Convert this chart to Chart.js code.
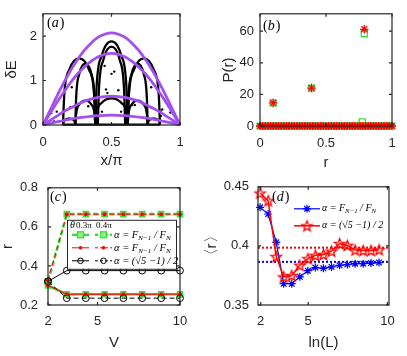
<!DOCTYPE html>
<html>
<head>
<meta charset="utf-8">
<script src="https://cdn.jsdelivr.net/npm/chart.js@4.4.1/dist/chart.umd.min.js"></script>
<style>
html, body { margin: 0; padding: 0; background: #fff; }
#wrap { position: relative; width: 407px; height: 356px; overflow: hidden; }
canvas { position: absolute; }
</style>
</head>
<body>
<div id="wrap">
  <canvas id="pa" width="204" height="170" style="left:0;top:0;width:204px;height:170px"></canvas>
  <canvas id="pb" width="203" height="170" style="left:204px;top:0;width:203px;height:170px"></canvas>
  <canvas id="pc" width="204" height="186" style="left:0;top:170px;width:204px;height:186px"></canvas>
  <canvas id="pd" width="203" height="186" style="left:204px;top:170px;width:203px;height:186px"></canvas>
</div>
<script>
// ---- panel (a): bands vs x/pi ----
const aX = [0, 0.05, 0.1, 0.15, 0.2, 0.25, 0.3, 0.35, 0.4, 0.45, 0.5, 0.55, 0.6, 0.65, 0.7, 0.75, 0.8, 0.85, 0.9, 0.95, 1];
const aBand1 = [0, 0.32, 0.64, 0.94, 1.22, 1.46, 1.67, 1.84, 1.97, 2.04, 2.07, 2.04, 1.97, 1.84, 1.67, 1.46, 1.22, 0.94, 0.64, 0.32, 0];
const aBand2 = [0, 0.25, 0.50, 0.73, 0.95, 1.14, 1.30, 1.43, 1.53, 1.59, 1.61, 1.59, 1.53, 1.43, 1.30, 1.14, 0.95, 0.73, 0.50, 0.25, 0];
const aBand3 = [0, 0.10, 0.20, 0.30, 0.38, 0.46, 0.53, 0.58, 0.62, 0.64, 0.65, 0.64, 0.62, 0.58, 0.53, 0.46, 0.38, 0.30, 0.20, 0.10, 0];
const aBand4 = [0, 0.034, 0.068, 0.10, 0.13, 0.155, 0.178, 0.196, 0.209, 0.217, 0.22, 0.217, 0.209, 0.196, 0.178, 0.155, 0.13, 0.10, 0.068, 0.034, 0];

// black spectrum arches, [x, dE]
const archCentral = [[0.382, 0], [0.391, 0.85], [0.429, 1.56], [0.5, 1.88], [0.571, 1.56], [0.609, 0.85], [0.618, 0]];
const archInner = [[0.40, 0], [0.408, 0.79], [0.44, 1.46], [0.5, 1.76], [0.56, 1.46], [0.592, 0.79], [0.60, 0]];
const archLeftBig = [[0.146, 0], [0.155, 0.68], [0.193, 1.25], [0.264, 1.5], [0.335, 1.25], [0.373, 0.68], [0.382, 0]];
const archRightBig = [[0.618, 0], [0.627, 0.68], [0.665, 1.25], [0.736, 1.5], [0.807, 1.25], [0.845, 0.68], [0.854, 0]];
const archLeftMid = [[0.236, 0], [0.242, 0.62], [0.265, 1.15], [0.309, 1.38], [0.353, 1.15], [0.376, 0.62], [0.382, 0]];
const archRightMid = [[0.618, 0], [0.624, 0.62], [0.647, 1.15], [0.691, 1.38], [0.735, 1.15], [0.758, 0.62], [0.764, 0]];
const archLowLeft = [[0.236, 0], [0.242, 0.25], [0.265, 0.46], [0.309, 0.55], [0.353, 0.46], [0.376, 0.25], [0.382, 0]];
const archLowCenter = [[0.382, 0], [0.391, 0.27], [0.429, 0.5], [0.5, 0.6], [0.571, 0.5], [0.609, 0.27], [0.618, 0]];
const archLowRight = [[0.618, 0], [0.624, 0.25], [0.647, 0.46], [0.691, 0.55], [0.735, 0.46], [0.758, 0.25], [0.764, 0]];
const archTinyLeft = [[0.146, 0], [0.15, 0.07], [0.164, 0.12], [0.191, 0.15], [0.218, 0.12], [0.232, 0.07], [0.236, 0]];
const archTinyRight = [[0.764, 0], [0.768, 0.07], [0.782, 0.12], [0.809, 0.15], [0.836, 0.12], [0.85, 0.07], [0.854, 0]];
const archBase = [[0.146, 0.01], [0.854, 0.01]];
const strayDots = [[0.06, 0.27], [0.08, 0.08], [0.1, 0.3], [0.2, 0.4], [0.21, 0.85], [0.33, 0.42], [0.45, 1.33],
  [0.46, 0.8], [0.47, 0.72], [0.5, 1.15], [0.52, 1.2], [0.55, 0.78], [0.43, 0.3], [0.57, 0.3], [0.65, 0.45],
  [0.67, 0.45], [0.79, 0.85], [0.79, 0.4], [0.86, 0.3], [0.86, 0.2], [0.87, 0.35], [0.93, 0.28], [0.95, 0.1]];

// ---- panel (b): P(r) ----
const bR = [0.1, 0.39, 0.79];
const bRed = [14.6, 24.0, 61.2];
const bGreen = [14.6, 24.0, 58.4];
const bExtraR = [0.775];
const bExtraGreen = [2.6];
const bBaseR = [0, 0.02, 0.04, 0.06, 0.08, 0.1, 0.12, 0.14, 0.16, 0.18, 0.2, 0.22, 0.24, 0.26, 0.28, 0.3, 0.32, 0.34,
  0.36, 0.38, 0.4, 0.42, 0.44, 0.46, 0.48, 0.5, 0.52, 0.54, 0.56, 0.58, 0.6, 0.62, 0.64, 0.66, 0.68, 0.7, 0.72, 0.74,
  0.76, 0.78, 0.8, 0.82, 0.84, 0.86, 0.88, 0.9, 0.92, 0.94, 0.96, 0.98, 1];
const bBaseP = [0, 0, 0, 0, 0, 0, 0, 0, 0, 0, 0, 0, 0, 0, 0, 0, 0, 0, 0, 0, 0, 0, 0, 0, 0, 0, 0, 0, 0, 0, 0, 0, 0, 0, 0,
  0, 0, 0, 0, 0, 0, 0, 0, 0, 0, 0, 0, 0, 0, 0, 0];

// ---- panel (c): r vs V ----
const cV = [2, 3.14, 4.29, 5.43, 6.57, 7.71, 8.86, 10];
const cGreen03 = [0.30, 0.255, 0.255, 0.255, 0.255, 0.255, 0.255, 0.255];
const cGreen04 = [0.32, 0.665, 0.665, 0.665, 0.665, 0.665, 0.665, 0.665];
const cRed03 = [0.30, 0.255, 0.255, 0.255, 0.255, 0.255, 0.255, 0.255];
const cRed04 = [0.326, 0.665, 0.665, 0.665, 0.665, 0.665, 0.665, 0.665];
const cBlack03 = [0.321, 0.376, 0.376, 0.376, 0.376, 0.376, 0.376, 0.376];
const cBlack04 = [0.321, 0.235, 0.235, 0.235, 0.235, 0.235, 0.235, 0.235];

// ---- panel (d): <r> vs ln(L) ----
const dLnL = [1.96, 2.47, 2.98, 3.45, 3.96, 4.47, 4.98, 5.45, 5.96, 6.47, 6.98, 7.47, 7.96, 8.47, 8.96, 9.47];
const dFib = [0.4326, 0.427, 0.403, 0.368, 0.368, 0.3738, 0.379, 0.3817, 0.381, 0.3822, 0.3836, 0.3842, 0.385, 0.385, 0.3855, 0.3859];
const dGold = [0.4447, 0.4382, 0.391, 0.3738, 0.375, 0.3836, 0.3892, 0.392, 0.3928, 0.3956, 0.402, 0.4004, 0.3966, 0.3962, 0.3962, 0.3968];
const dFibLevel = 0.3865;
const dGoldLevel = 0.3985;

const ink = '#262626';
const purple = '#a34ff0';
const green = '#3cdc3c';
Chart.defaults.font.family = '"Liberation Sans", Arial, sans-serif';
Chart.defaults.font.size = 13;
Chart.defaults.color = ink;

function pts(xs, ys) { return xs.map((x, i) => ({x: x, y: ys[i]})); }
function pairs(list) { return list.map(p => ({x: p[0], y: p[1]})); }

function xAxis(min, max, ticks, height, pad, title, tpad) {
  return {
    type: 'linear', position: 'bottom', min: min, max: max,
    grid: {display: false, drawTicks: false}, border: {display: false},
    afterBuildTicks: s => { s.ticks = ticks.map(v => ({value: v})); },
    afterFit: s => { s.height = height; },
    ticks: {padding: pad, maxRotation: 0, autoSkip: false, callback: v => String(v)},
    title: {display: true, text: title, color: ink, font: {size: 15, lineHeight: 1}, padding: {top: 0, bottom: tpad}}
  };
}
function yAxis(min, max, ticks, width, pad, title, tpad) {
  return {
    type: 'linear', position: 'left', min: min, max: max,
    grid: {display: false, drawTicks: false}, border: {display: false},
    afterBuildTicks: s => { s.ticks = ticks.map(v => ({value: v})); },
    afterFit: s => { s.width = width; },
    ticks: {padding: pad, autoSkip: false, callback: v => String(v)},
    title: {display: true, text: title, color: ink, font: {size: 15, lineHeight: 1}, padding: {top: tpad, bottom: 0}}
  };
}

// box round the axes with inward ticks, plus the panel letter
function frame(letter, dx, dy) {
  return {
    id: 'frame',
    afterDraw(chart) {
      const {ctx, chartArea: a, scales} = chart;
      ctx.save();
      ctx.strokeStyle = ink;
      ctx.lineWidth = 1.2;
      ctx.strokeRect(a.left, a.top, a.right - a.left, a.bottom - a.top);
      ctx.beginPath();
      scales.x.ticks.forEach(t => {
        const px = scales.x.getPixelForValue(t.value);
        ctx.moveTo(px, a.bottom); ctx.lineTo(px, a.bottom - 3);
        ctx.moveTo(px, a.top); ctx.lineTo(px, a.top + 3);
      });
      scales.y.ticks.forEach(t => {
        const py = scales.y.getPixelForValue(t.value);
        ctx.moveTo(a.left, py); ctx.lineTo(a.left + 3, py);
        ctx.moveTo(a.right, py); ctx.lineTo(a.right - 3, py);
      });
      ctx.stroke();
      ctx.fillStyle = '#000';
      ctx.textBaseline = 'middle';
      ctx.textAlign = 'left';
      ctx.font = '14px "Liberation Serif"';
      let x = a.left + dx;
      const y = a.top + dy;
      ctx.fillText('(', x, y); x += ctx.measureText('(').width;
      ctx.font = 'italic 14px "Liberation Serif"';
      ctx.fillText(letter, x, y); x += ctx.measureText(letter).width + 1;
      ctx.font = '14px "Liberation Serif"';
      ctx.fillText(')', x, y);
      ctx.restore();
    }
  };
}

function mathText(ctx, x, y, parts, size) {
  parts.forEach(p => {
    const sub = p[1];
    ctx.font = 'italic ' + (sub ? size * 0.68 : size) + 'px "Liberation Serif"';
    ctx.fillText(p[0], x, sub ? y + size * 0.28 : y);
    x += ctx.measureText(p[0]).width;
  });
}

function baseOptions(pad) {
  return {
    responsive: false, animation: false, events: [],
    layout: {padding: pad},
    plugins: {legend: {display: false}, tooltip: {enabled: false}}
  };
}

// ---------- (a) ----------
const blackArches = [archCentral, archInner, archLeftBig, archRightBig, archLeftMid, archRightMid,
  archLowLeft, archLowCenter, archLowRight, archTinyLeft, archTinyRight, archBase];
const aSets = [aBand1, aBand2, aBand3, aBand4].map(b => ({
  data: pts(aX, b), showLine: true, borderColor: purple, borderWidth: 2.8,
  pointRadius: 0, tension: 0.4, cubicInterpolationMode: 'monotone', clip: false
}));
blackArches.forEach(arch => aSets.push({
  data: pairs(arch), showLine: true, borderColor: '#000', borderWidth: 2.3,
  pointRadius: 0, cubicInterpolationMode: 'monotone', clip: false
}));
aSets.push({data: pairs(strayDots), showLine: false, pointRadius: 1.2, pointBackgroundColor: '#000', pointBorderWidth: 0});

const optA = baseOptions({left: 0, top: 6, right: 24, bottom: 0});
optA.scales = {
  x: xAxis(0, 1, [0, 0.5, 1], 45, 10, 'x/\u03c0', 2),
  y: yAxis(0, 2.5, [0, 1, 2], 43, 6, '\u03b4E', 4)
};
new Chart(document.getElementById('pa'), {type: 'scatter', data: {datasets: aSets}, options: optA, plugins: [frame('a', 4, 10)]});

// ---------- (b) ----------
const optB = baseOptions({left: 0, top: 8, right: 15, bottom: 0});
optB.scales = {
  x: xAxis(0, 1, [0, 0.5, 1], 44, 10, 'r', 0),
  y: yAxis(0, 71, [0, 20, 40, 60], 56, 6, 'P(r)', 17)
};
new Chart(document.getElementById('pb'), {
  type: 'scatter',
  data: {datasets: [
    {data: pts(bR, bRed), pointStyle: 'star', pointRadius: 4.2, borderColor: '#ff0000', pointBorderWidth: 1.3, clip: false},
    {data: pts(bBaseR, bBaseP), pointStyle: 'star', pointRadius: 4, borderColor: '#ff0000', pointBorderWidth: 1.4, clip: false},
    {data: pts(bR, bGreen), pointStyle: 'rect', pointRadius: 4.3, borderColor: green, backgroundColor: 'rgba(0,0,0,0)', pointBorderWidth: 1.3, clip: false},
    {data: pts(bExtraR, bExtraGreen), pointStyle: 'rect', pointRadius: 4.3, borderColor: green, backgroundColor: 'rgba(0,0,0,0)', pointBorderWidth: 1.3, clip: false},
    {data: pts(bBaseR, bBaseP), pointStyle: 'rect', pointRadius: 4, borderColor: green, backgroundColor: 'rgba(0,0,0,0)', pointBorderWidth: 1.2, clip: false}
  ]},
  options: optB, plugins: [frame('b', 3, 13)]
});

// ---------- (c) ----------
const dash = [5, 3];
function cMarker(kind) {
  if (kind === 'square') return {pointStyle: 'rect', pointRadius: 3.6, pointBackgroundColor: '#8cf08c', pointBorderColor: green, pointBorderWidth: 1.5};
  if (kind === 'dot') return {pointStyle: 'circle', pointRadius: 2, pointBackgroundColor: '#ff0000', pointBorderColor: '#ff0000', pointBorderWidth: 0};
  return {pointStyle: 'circle', pointRadius: 3.4, pointBackgroundColor: 'rgba(0,0,0,0)', pointBorderColor: '#000', pointBorderWidth: 1};
}
function cSet(ys, color, width, dashed, kind) {
  return Object.assign({data: pts(cV, ys), showLine: true, borderColor: color, borderWidth: width,
    borderDash: dashed ? dash : [], clip: false}, cMarker(kind));
}
const legendC = {
  id: 'legendC',
  afterDraw(chart) {
    const {ctx, chartArea: a} = chart;
    const L = a.left + 19, T = a.top + 32;
    ctx.save();
    ctx.fillStyle = '#fff';
    ctx.fillRect(L, T, 109, 49);
    ctx.strokeStyle = ink; ctx.lineWidth = 1;
    ctx.strokeRect(L + 0.5, T + 0.5, 109, 49);
    ctx.fillStyle = '#000';
    ctx.textBaseline = 'middle';
    ctx.textAlign = 'left';
    ctx.font = 'italic 10px "Liberation Serif"';
    ctx.fillText('\u03b8', L + 3, T + 6);
    ctx.font = '9px "Liberation Serif"';
    ctx.fillText('0.3\u03c0', L + 9, T + 6);
    ctx.fillText('0.4\u03c0', L + 29, T + 6);
    const rows = [
      {color: green, width: 2.4, kind: 'square', parts: [['\u03b1 = F'], ['N\u22121', 1], [' / F'], ['N', 1]]},
      {color: '#ff0000', width: 1, kind: 'dot', parts: [['\u03b1 = F'], ['N\u22121', 1], [' / F'], ['N', 1]]},
      {color: '#000', width: 1, kind: 'circle', parts: [['\u03b1 = (\u221a5 \u22121) / 2']]}
    ];
    rows.forEach((r, i) => {
      const y = T + 15 + i * 13;
      [[L + 5, L + 22, false], [L + 28, L + 45, true]].forEach(seg => {
        ctx.strokeStyle = r.color; ctx.lineWidth = r.width;
        ctx.setLineDash(seg[2] ? [3, 2] : []);
        ctx.beginPath(); ctx.moveTo(seg[0], y); ctx.lineTo(seg[1], y); ctx.stroke();
        ctx.setLineDash([]);
        const mx = (seg[0] + seg[1]) / 2;
        if (r.kind === 'square') {
          ctx.fillStyle = '#8cf08c'; ctx.fillRect(mx - 3, y - 3, 6, 6);
          ctx.strokeStyle = green; ctx.lineWidth = 1.3; ctx.strokeRect(mx - 3, y - 3, 6, 6);
        } else if (r.kind === 'dot') {
          ctx.fillStyle = '#ff0000'; ctx.beginPath(); ctx.arc(mx, y, 1.8, 0, Math.PI * 2); ctx.fill();
        } else {
          ctx.strokeStyle = '#000'; ctx.lineWidth = 1; ctx.beginPath(); ctx.arc(mx, y, 2.8, 0, Math.PI * 2); ctx.stroke();
        }
      });
      ctx.fillStyle = '#000';
      mathText(ctx, L + 47, y, r.parts, 10.5);
    });
    ctx.restore();
  }
};
const optC = baseOptions({left: 0, top: 16, right: 24, bottom: 0});
optC.scales = {
  x: xAxis(2, 10, [2, 5, 10], 51, 9, 'V', 6),
  y: yAxis(0.2, 0.8, [0.2, 0.4, 0.6, 0.8], 48, 10, 'r', 0)
};
new Chart(document.getElementById('pc'), {
  type: 'scatter',
  data: {datasets: [
    cSet(cRed03, '#ff0000', 1, false, 'dot'),
    cSet(cRed04, '#ff0000', 1, true, 'dot'),
    cSet(cBlack03, '#000', 1, false, 'circle'),
    cSet(cBlack04, '#000', 1, true, 'circle'),
    cSet(cGreen03, green, 2.6, false, 'square'),
    cSet(cGreen04, green, 2.6, true, 'square')
  ]},
  options: optC, plugins: [frame('c', 2, 10), legendC]
});

// ---------- (d) ----------
function starImage(color, r) {
  const c = document.createElement('canvas');
  const s = Math.ceil(r * 2 + 4);
  c.width = s; c.height = s;
  const g = c.getContext('2d');
  g.strokeStyle = color; g.lineWidth = 1.3;
  g.beginPath();
  for (let i = 0; i < 10; i++) {
    const ang = -Math.PI / 2 + i * Math.PI / 5;
    const rr = i % 2 ? r * 0.42 : r;
    g.lineTo(s / 2 + rr * Math.cos(ang), s / 2 + rr * Math.sin(ang) + r * 0.1);
  }
  g.closePath(); g.stroke();
  return c;
}
const redStar = starImage('#ff0000', 5.5);
const dMin = 1.83, dMax = 10.1;
const legendD = {
  id: 'legendD',
  afterDraw(chart) {
    const {ctx, chartArea: a} = chart;
    ctx.save();
    ctx.textBaseline = 'middle';
    ctx.textAlign = 'left';
    const x0 = a.left + 36, x1 = a.left + 62, y1 = a.top + 22, y2 = a.top + 39;
    ctx.strokeStyle = '#0000ff'; ctx.lineWidth = 1.2;
    ctx.beginPath(); ctx.moveTo(x0, y1); ctx.lineTo(x1, y1); ctx.stroke();
    const m = (x0 + x1) / 2;
    ctx.beginPath();
    ctx.moveTo(m - 4, y1); ctx.lineTo(m + 4, y1); ctx.moveTo(m, y1 - 4); ctx.lineTo(m, y1 + 4);
    ctx.moveTo(m - 2.8, y1 - 2.8); ctx.lineTo(m + 2.8, y1 + 2.8); ctx.moveTo(m - 2.8, y1 + 2.8); ctx.lineTo(m + 2.8, y1 - 2.8);
    ctx.stroke();
    ctx.strokeStyle = '#ff0000'; ctx.lineWidth = 1.5;
    ctx.beginPath(); ctx.moveTo(x0, y2); ctx.lineTo(x1, y2); ctx.stroke();
    ctx.drawImage(redStar, m - redStar.width / 2, y2 - redStar.height / 2);
    ctx.fillStyle = '#000';
    mathText(ctx, x1 + 2, y1, [['\u03b1 = F'], ['N\u22121', 1], [' / F'], ['N', 1]], 10);
    mathText(ctx, x1 + 2, y2, [['\u03b1 = (\u221a5 \u22121) / 2']], 10);
    ctx.restore();
  }
};
const optD = baseOptions({left: 0, top: 16, right: 18, bottom: 0});
optD.scales = {
  x: xAxis(dMin, dMax, [2, 5, 10], 51, 9, 'ln(L)', 6),
  y: yAxis(0.35, 0.45, [0.35, 0.4, 0.45], 54, 9, '\u3008r\u3009', 0)
};
new Chart(document.getElementById('pd'), {
  type: 'scatter',
  data: {datasets: [
    {data: pts(dLnL, dGold), showLine: true, borderColor: '#ff0000', borderWidth: 1.5, pointStyle: redStar, clip: false},
    {data: pts(dLnL, dFib), showLine: true, borderColor: '#0000ff', borderWidth: 1.2, pointStyle: 'star',
      pointRadius: 4, pointBorderColor: '#0000ff', pointBorderWidth: 1.2, clip: false},
    {data: [{x: dMin, y: dGoldLevel}, {x: dMax, y: dGoldLevel}], showLine: true, borderColor: '#ff0000',
      borderWidth: 2, borderDash: [2, 2], pointRadius: 0},
    {data: [{x: dMin, y: dFibLevel}, {x: dMax, y: dFibLevel}], showLine: true, borderColor: '#0000ff',
      borderWidth: 2, borderDash: [2, 2], pointRadius: 0}
  ]},
  options: optD, plugins: [frame('d', 14, 11), legendD]
});
</script>
</body>
</html>
